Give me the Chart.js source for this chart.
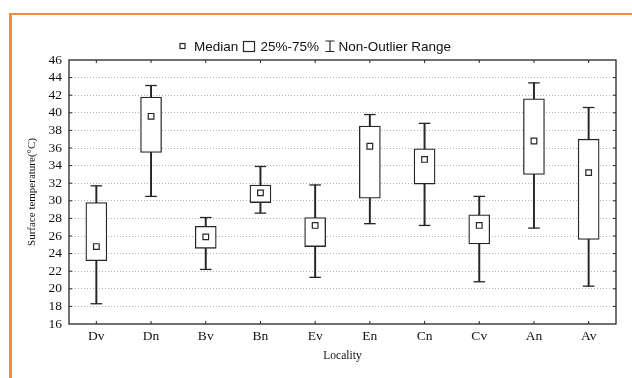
<!DOCTYPE html>
<html>
<head>
<meta charset="utf-8">
<script src="https://cdn.jsdelivr.net/npm/chart.js@4.4.1/dist/chart.umd.min.js"></script>
<style>
  html, body { margin: 0; padding: 0; background: #fff; }
  #wrap { position: relative; width: 632px; height: 378px; }
  /* marco naranja, solo arriba e izquierda */
  #borde { position: absolute; left: 9px; top: 13px; right: 0; bottom: 0;
           border-top: 2px solid #f58b3e; border-left: 3px solid #f58b3e; }
  #grafica { position: absolute; left: 0; top: 0; }
</style>
</head>
<body>
<div id="wrap">
  <div id="borde"></div>
  <canvas id="grafica" width="632" height="378"></canvas>
</div>
<script>
/* Datos */
const localidades = ['Dv', 'Dn', 'Bv', 'Bn', 'Ev', 'En', 'Cn', 'Cv', 'An', 'Av'];
const medianas = [24.8, 39.6, 25.9, 30.9, 27.2, 36.2, 34.7, 27.2, 36.8, 33.2];
const cuartil25 = [23.2, 35.5, 24.6, 29.8, 24.8, 30.3, 31.9, 25.1, 33.0, 25.6];
const cuartil75 = [29.8, 41.8, 27.1, 31.8, 28.1, 38.5, 35.9, 28.4, 41.6, 37.0];
const minimos = [18.3, 30.5, 22.2, 28.6, 21.3, 27.4, 27.2, 20.8, 26.9, 20.3];
const maximos = [31.7, 43.1, 28.1, 33.9, 31.8, 39.8, 38.8, 30.5, 43.4, 40.6];
const yMin = 16, yMax = 46, yPaso = 2;

const tinta = '#262626';
const serif = '"Liberation Serif", "Times New Roman", serif';
const sans = '"Liberation Sans", Arial, sans-serif';

// marco del area y marcas hacia dentro
const marco = {
  id: 'marco',
  afterDraw(chart) {
    const { ctx, chartArea: a, scales: { x, y } } = chart;
    ctx.save();
    ctx.strokeStyle = tinta;
    ctx.lineWidth = 1.3;
    ctx.strokeRect(a.left, a.top, a.right - a.left, a.bottom - a.top);
    ctx.lineWidth = 1;
    ctx.beginPath();
    localidades.forEach((l, i) => {
      const px = x.getPixelForValue(i);
      ctx.moveTo(px, a.top); ctx.lineTo(px, a.top + 3);
      ctx.moveTo(px, a.bottom); ctx.lineTo(px, a.bottom - 3);
    });
    for (let v = yMin + yPaso; v < yMax; v += yPaso) {
      const py = y.getPixelForValue(v);
      ctx.moveTo(a.right, py); ctx.lineTo(a.right - 3, py);
      ctx.moveTo(a.left, py); ctx.lineTo(a.left + 3, py);
    }
    ctx.stroke();
    ctx.restore();
  }
};

// leyenda de arriba (Median / 25%-75% / Non-Outlier Range)
const leyenda = {
  id: 'leyenda',
  afterDraw(chart) {
    const ctx = chart.ctx;
    ctx.save();
    ctx.strokeStyle = tinta;
    ctx.fillStyle = '#111';
    ctx.font = '13.5px ' + sans;
    ctx.textBaseline = 'alphabetic';
    ctx.lineWidth = 1.2;
    ctx.strokeRect(180, 43.5, 5, 5);
    ctx.fillText('Median', 194, 51);
    ctx.strokeRect(243.5, 41.5, 11, 10);
    ctx.fillText('25%-75%', 260.5, 51);
    ctx.beginPath();
    ctx.moveTo(330, 41); ctx.lineTo(330, 51.5);
    ctx.moveTo(325.5, 41); ctx.lineTo(334.5, 41);
    ctx.moveTo(325.5, 51.5); ctx.lineTo(334.5, 51.5);
    ctx.stroke();
    ctx.fillText('Non-Outlier Range', 338.5, 51);
    ctx.restore();
  }
};

const ctx = document.getElementById('grafica').getContext('2d');

let chart = new Chart(ctx, {
  type: 'bar',
  data: {
    labels: localidades,
    datasets: [
      {
        type: 'line',
        label: 'Median',
        data: medianas,
        showLine: false,
        pointStyle: 'rect',
        pointRadius: 4,
        pointBackgroundColor: '#fff',
        pointBorderColor: tinta,
        pointBorderWidth: 1.2
      },
      {
        label: '25%-75%',
        data: localidades.map((l, i) => [cuartil25[i], cuartil75[i]]),
        backgroundColor: '#fff',
        borderColor: tinta,
        borderWidth: 1.3,
        borderSkipped: false,
        barThickness: 21,
        grouped: false
      },
      {
        type: 'line',
        label: 'max',
        data: maximos,
        showLine: false,
        pointStyle: 'line',
        pointRadius: 5.8,
        pointBorderColor: tinta,
        pointBorderWidth: 1.3
      },
      {
        type: 'line',
        label: 'min',
        data: minimos,
        showLine: false,
        pointStyle: 'line',
        pointRadius: 5.8,
        pointBorderColor: tinta,
        pointBorderWidth: 1.3
      },
      {
        label: 'Non-Outlier Range',
        data: localidades.map((l, i) => [minimos[i], maximos[i]]),
        backgroundColor: tinta,
        borderWidth: 0,
        barThickness: 1.3,
        grouped: false
      }
    ]
  },
  options: {
    responsive: false,
    animation: false,
    events: [],
    layout: { padding: { top: 60, right: 16, left: 0, bottom: 0 } },
    plugins: { legend: { display: false }, tooltip: { enabled: false } },
    scales: {
      x: {
        offset: true,
        grid: { display: false, drawTicks: false },
        border: { display: false },
        ticks: { color: '#111', padding: 4, font: { family: serif, size: 13.5 } },
        title: {
          display: true, text: 'Locality', color: '#111',
          font: { family: serif, size: 11.5 }, padding: { top: 0, bottom: 15.5 }
        },
        afterFit(scale) { scale.height = 54; }
      },
      y: {
        min: yMin,
        max: yMax,
        grid: {
          drawTicks: false,
          color: c => (c.tick.value === yMin || c.tick.value === yMax) ? 'rgba(0,0,0,0)' : '#b4b4b4',
          lineWidth: 1
        },
        border: { display: false, dash: [1, 2] },
        ticks: {
          stepSize: yPaso, autoSkip: false, color: '#111', padding: 7,
          font: { family: serif, size: 13.5 }
        },
        title: {
          display: true, text: 'Surface temperature(°C)', color: '#111',
          font: { family: serif, size: 11 }, padding: { top: 25.5, bottom: 0 }
        },
        afterFit(scale) { scale.width = 69; }
      }
    }
  },
  plugins: [marco, leyenda]
});
</script>
</body>
</html>
